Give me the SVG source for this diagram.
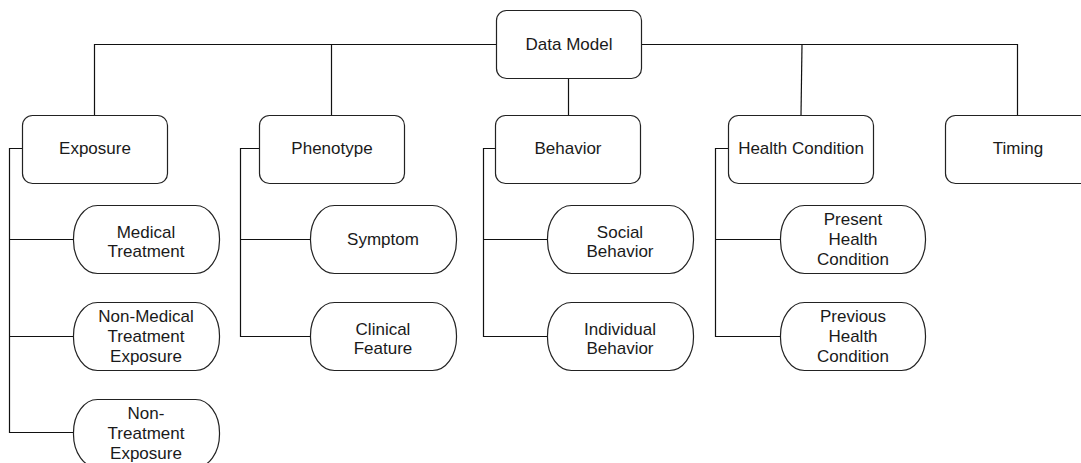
<svg xmlns="http://www.w3.org/2000/svg" width="1081" height="463" viewBox="0 0 1081 463">
<style>
.box{fill:#fff;stroke:#222;stroke-width:1.2}
.c{fill:none;stroke:#111;stroke-width:1.2}
text{font-family:"Liberation Sans",Arial,Helvetica,sans-serif;font-size:17px;fill:#1a1a1a;text-anchor:middle}
</style>
<rect width="1081" height="463" fill="#fff"/>
<g id="connectors">
<path class="c" d="M94.5 115V44.5H496"/>
<path class="c" d="M331.5 115V44.5"/>
<path class="c" d="M641 44.5H1017.5V115"/>
<path class="c" d="M802 44.5L801 115"/>
<path class="c" d="M568.5 78V115"/>
<path class="c" d="M22 148.5H9.5V432.5H73M9.5 239.5H73M9.5 336.5H73"/>
<path class="c" d="M259 148.5H240.5V336.5H310M240.5 239.5H310"/>
<path class="c" d="M495 148.5H483.5V336.5H547M483.5 239.5H547"/>
<path class="c" d="M728 148.5H715.5V336.5H780M715.5 239.5H780"/>
</g>
<g id="data-model"><rect class="box" x="496.5" y="10.5" width="145" height="68" rx="10"/><text x="569" y="50">Data Model</text></g>
<g id="exposure"><rect class="box" x="22.5" y="115.5" width="145" height="68" rx="10"/><text x="95" y="154">Exposure</text></g>
<g id="phenotype"><rect class="box" x="259.5" y="115.5" width="145" height="68" rx="10"/><text x="332" y="154">Phenotype</text></g>
<g id="behavior"><rect class="box" x="495.5" y="115.5" width="145" height="68" rx="10"/><text x="568" y="154">Behavior</text></g>
<g id="health-condition"><rect class="box" x="728.5" y="115.5" width="145" height="68" rx="10"/><text x="801" y="154">Health Condition</text></g>
<g id="timing"><rect class="box" x="945.5" y="115.5" width="145" height="68" rx="10"/><text x="1018" y="154">Timing</text></g>
<g id="medical-treatment"><rect class="box" x="73.5" y="205.5" width="146" height="68" rx="24" ry="33"/><text x="146" y="238">Medical</text><text x="146" y="257">Treatment</text></g>
<g id="non-medical-treatment-exposure"><rect class="box" x="73.5" y="302.5" width="146" height="68" rx="24" ry="33"/><text x="146" y="322">Non-Medical</text><text x="146" y="342">Treatment</text><text x="146" y="362">Exposure</text></g>
<g id="non-treatment-exposure"><rect class="box" x="73.5" y="399.5" width="146" height="68" rx="24" ry="33"/><text x="146" y="419">Non-</text><text x="146" y="439">Treatment</text><text x="146" y="459">Exposure</text></g>
<g id="symptom"><rect class="box" x="310.5" y="205.5" width="146" height="68" rx="24" ry="33"/><text x="383" y="245">Symptom</text></g>
<g id="clinical-feature"><rect class="box" x="310.5" y="302.5" width="146" height="68" rx="24" ry="33"/><text x="383" y="335">Clinical</text><text x="383" y="354">Feature</text></g>
<g id="social-behavior"><rect class="box" x="547.5" y="205.5" width="146" height="68" rx="24" ry="33"/><text x="620" y="238">Social</text><text x="620" y="257">Behavior</text></g>
<g id="individual-behavior"><rect class="box" x="547.5" y="302.5" width="146" height="68" rx="24" ry="33"/><text x="620" y="335">Individual</text><text x="620" y="354">Behavior</text></g>
<g id="present-health-condition"><rect class="box" x="780.5" y="205.5" width="145" height="68" rx="24" ry="33"/><text x="853" y="225">Present</text><text x="853" y="245">Health</text><text x="853" y="265">Condition</text></g>
<g id="previous-health-condition"><rect class="box" x="780.5" y="302.5" width="145" height="68" rx="24" ry="33"/><text x="853" y="322">Previous</text><text x="853" y="342">Health</text><text x="853" y="362">Condition</text></g>
</svg>
